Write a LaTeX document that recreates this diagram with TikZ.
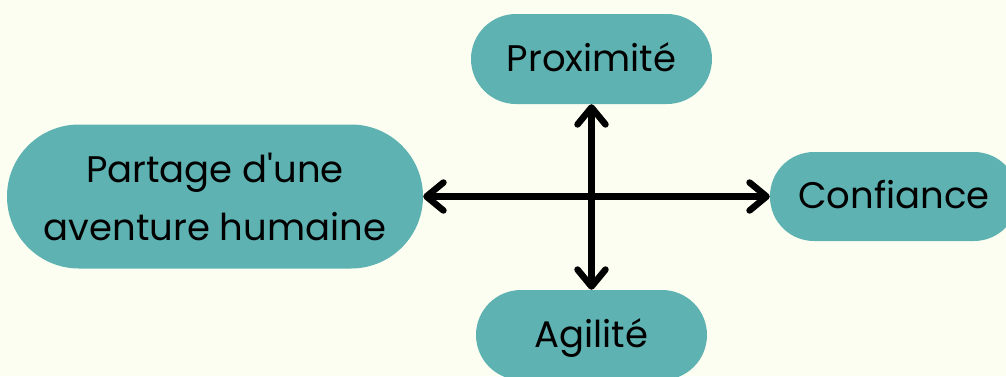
\documentclass[tikz,border=0pt]{standalone}
\usepackage{fontspec}
\newfontfamily\boxfont{Poppins}
\usetikzlibrary{arrows.meta}
\definecolor{bgcol}{HTML}{FCFEF1}
\definecolor{tealbox}{HTML}{5EB2B2}
\tikzset{
  pill/.style={fill=tealbox, draw=none, rectangle, inner sep=0pt, align=center,
    font=\boxfont\fontsize{37}{58}\selectfont, text=black},
  onel/.style={text height=24pt, text depth=0pt},
  link/.style={line width=6.5pt, {Straight Barb[length=17pt,width=28pt,round]}-{Straight Barb[length=17pt,width=28pt,round]}}
}
\begin{document}
\begin{tikzpicture}[x=1pt,y=-1pt]
\fill[bgcol] (0,0) rectangle (1006,376);
\useasboundingbox (0,0) rectangle (1006,376);
\node[pill, onel, minimum width=241pt, minimum height=90pt, rounded corners=45pt] (prox) at (591.5,59) {Proximité};
\node[pill, minimum width=416pt, minimum height=144pt, rounded corners=72pt] (part) at (215,196.5) {Partage d'une\\aventure humaine};
\node[pill, onel, minimum width=248pt, minimum height=89pt, rounded corners=44pt] (conf) at (894,196.5) {Confiance};
\node[pill, onel, minimum width=231pt, minimum height=90pt, rounded corners=45pt] (agil) at (591.5,335) {Agilité};
\draw[link] (part.east) -- (conf.west);
\draw[link] (prox.south) -- (agil.north);
\end{tikzpicture}
\end{document}
